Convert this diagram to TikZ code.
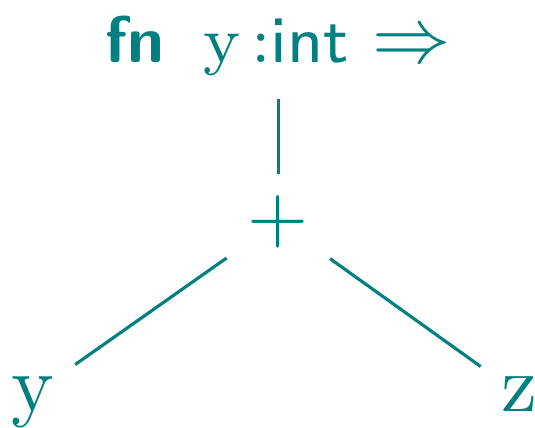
\documentclass[tikz,border=0pt]{standalone}
\usepackage{xcolor}
\begin{document}
\begin{tikzpicture}[
    tree/.style={inner sep=2.5pt, text=teal, font=\fontsize{10}{12}\selectfont},
    leaf/.style={tree, font=\fontsize{10.3}{12}\selectfont, text depth=0pt, anchor=base},
    edge/.style={draw=teal, line width=0.4pt}
]
    \useasboundingbox (-1.246,0.992) rectangle (1.149,-0.920);
    \node[tree, inner sep=2.8pt, anchor=base] (fn) at (0,0.714) {\fontsize{8.4}{10}\selectfont\textsf{\textbf{fn}}\hspace{4.9pt}y\,:\textsf{int} {\fontsize{10}{12}\selectfont$\Rightarrow$}};
    \node[tree] (plus) at (0,0) {$+$};
    \node[leaf] (y) at (-1.100,-0.852) {y};
    \node[leaf] (z) at (1.081,-0.852) {z};

    \draw[edge] (fn) -- (plus);
    \draw[edge] (plus) -- (y);
    \draw[edge] (plus) -- (z);
\end{tikzpicture}
\end{document}
